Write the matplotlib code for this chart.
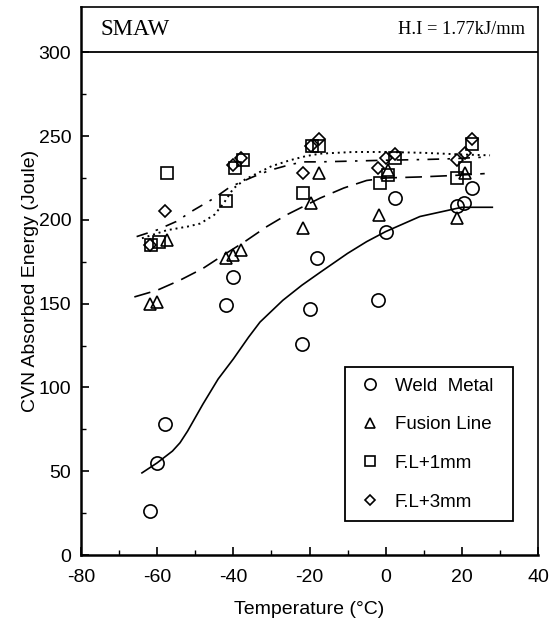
import matplotlib
matplotlib.use('Agg')
import matplotlib.pyplot as plt
from matplotlib.ticker import FixedLocator

plt.rcParams['font.family'] = ['Liberation Sans', 'DejaVu Sans']
plt.rcParams['axes.unicode_minus'] = False

wm_t = [-62, -60, -58, -42, -40, -22, -20, -18, -2, 0, 2.5, 18.7, 20.6, 22.6]
wm_e = [26, 55, 78, 149, 166, 126, 147, 177, 152, 193, 213, 208, 210, 219]

fl_t = [-62, -60, -57.5, -42, -40, -38, -21.6, -19.7, -17.4, -1.7, 0.7, 18.7, 20.7]
fl_e = [150, 151, 188, 177, 179, 182, 195, 210, 228, 203, 230, 201, 228]

fl1_t = [-61.5, -59.5, -57.5, -42, -39.6, -37.5, -21.8, -19.4, -17.4, -1.5, 0.7, 2.5, 18.7, 20.7, 22.6]
fl1_e = [185, 187, 228, 211, 231, 236, 216, 244, 244, 222, 227, 237, 225, 231, 245]

fl3_t = [-62, -58, -40, -38, -21.6, -19.7, -17.4, -2, 0, 2.5, 18.7, 20.8, 22.6]
fl3_e = [185, 205, 233, 237, 228, 244, 248, 231, 237, 239, 236, 240, 248]

# hand-drawn trend curves
wm_fit_t = [-64, -60, -56, -54, -52, -48, -44, -40, -36, -33, -27, -22, -17, -10, -5, 0, 5, 9, 15, 20, 28]
wm_fit_e = [49, 55, 62, 67, 74, 90, 105, 117, 130, 139, 152, 161, 169, 180, 187, 193, 198, 202, 205, 207.5, 207.5]

fl_fit_t = [-66, -60, -54, -48, -42.6, -37, -31.2, -26, -21.6, -17.2, -11, -5, 0, 9, 18, 26]
fl_fit_e = [154, 158, 164, 171, 179, 187, 196, 203, 208, 213, 219, 223.5, 225, 225.6, 226.5, 227.6]

fl1_fit_t = [-65.4, -60, -55, -50.5, -45, -40.9, -35, -30.4, -25, -21.6, -17.2, -10, 0.3, 10, 17.8, 26.5]
fl1_fit_e = [190, 194, 199, 205.7, 213, 219.6, 225.5, 229.6, 233, 234.6, 234.6, 235, 235.6, 236, 236.5, 237.5]

fl3_fit_t = [-64, -57.5, -52, -48.7, -45, -42.6, -40, -37, -33.9, -30, -25.1, -21, -17.2, -8.5, 0, 10, 20, 27.4]
fl3_fit_e = [189, 193.8, 196, 197.8, 203, 209.7, 218.7, 224, 227.6, 232, 235.6, 238, 239.5, 240.5, 240.5, 240, 239, 238.5]

fig = plt.figure(figsize=(5.5, 6.27), dpi=100)
ax = fig.add_axes([0.1473, 0.1148, 0.8309, 0.874])

ax.plot(wm_fit_t, wm_fit_e, color='black', lw=1.2)
ax.plot(fl_fit_t, fl_fit_e, color='black', lw=1.2, dashes=(10, 5))
ax.plot(fl1_fit_t, fl1_fit_e, color='black', lw=1.2, dashes=(7, 5, 1.5, 5))
ax.plot(fl3_fit_t, fl3_fit_e, color='black', lw=1.4, dashes=(1, 2))

mk = dict(ls='none', mfc='none', mec='black', mew=1.2)
ax.plot(wm_t, wm_e, marker='o', ms=9.5, label='Weld  Metal', **mk)
ax.plot(fl_t, fl_e, marker='^', ms=9, label='Fusion Line', **mk)
ax.plot(fl1_t, fl1_e, marker='s', ms=8.5, label='F.L+1mm', **mk)
ax.plot(fl3_t, fl3_e, marker='D', ms=6.5, label='F.L+3mm', **mk)

ax.set_xlim(-80, 40)
ax.set_ylim(0, 327)
ax.axhline(300, color='black', lw=1.3)

ax.set_xticks(range(-80, 41, 20))
ax.set_yticks(range(0, 301, 50))
ax.xaxis.set_minor_locator(FixedLocator(range(-70, 40, 20)))
ax.yaxis.set_minor_locator(FixedLocator(range(25, 300, 50)))
ax.tick_params(which='both', direction='in', top=False, right=False, labelsize=14)
ax.tick_params(which='major', length=6, width=1.2)
ax.tick_params(which='minor', length=3.5, width=1)
ax.tick_params(axis='x', pad=10)
ax.tick_params(axis='y', pad=7)

for s in ['left', 'bottom']:
    ax.spines[s].set_linewidth(1.8)
for s in ['top', 'right']:
    ax.spines[s].set_linewidth(1.2)

ax.set_xlabel('Temperature (°C)', fontsize=14, labelpad=11)
ax.set_ylabel('CVN Absorbed Energy (Joule)', fontsize=14, labelpad=0)

ax.text(-75, 313.5, 'SMAW', family='Liberation Serif', fontsize=16.5, va='center', ha='left')
ax.text(36.5, 313.5, 'H.I = 1.77kJ/mm', family='Liberation Serif', fontsize=13.3, va='center', ha='right')

leg = ax.legend(loc='lower left', bbox_to_anchor=(0.578, 0.062, 0.367, 0.28), mode='expand',
                borderaxespad=0, fontsize=13.5, fancybox=False, edgecolor='black',
                framealpha=1, labelspacing=1.15, borderpad=0.55, handletextpad=0.5,
                handlelength=1.6, markerscale=0.85)
leg.get_frame().set_linewidth(1.3)

fig.savefig('out.png', dpi=100)
